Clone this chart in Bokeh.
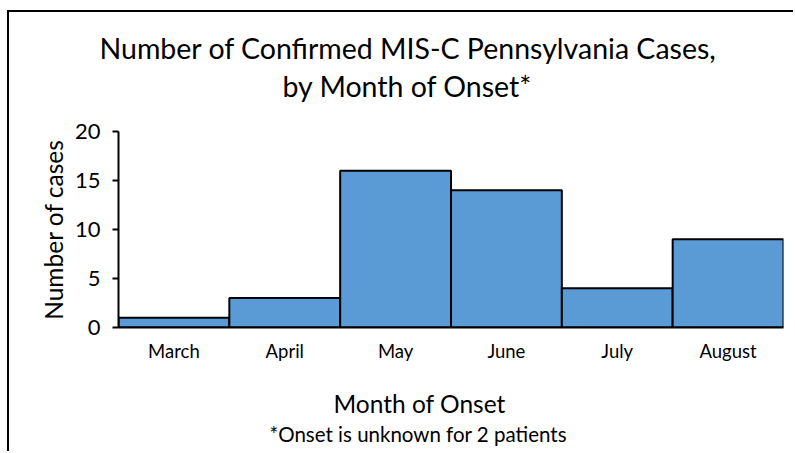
from bokeh.plotting import figure
from bokeh.models import Range1d, Title
from bokeh.embed import file_html
from bokeh.resources import INLINE

months = ["March", "April", "May", "June", "July", "August"]
cases = [1, 3, 16, 14, 4, 9]
y_ticks = [0, 5, 10, 15, 20]

FONT = "Lato"

p = figure(x_range=months, y_range=Range1d(0, 20), width=786, height=441,
           output_backend="svg", toolbar_location=None,
           min_border_left=109, min_border_right=12, min_border_top=119,
           min_border_bottom=126)
p.styles = {"border-left": "2px solid black", "border-top": "2px solid black",
            "margin-left": "7px", "margin-top": "10px"}
p.x_range.range_padding = 0
p.vbar(x=months, top=cases, width=1.0, fill_color="#5B9BD5",
       line_color="black", line_width=2)

p.outline_line_color = None
p.xgrid.grid_line_color = None
p.ygrid.grid_line_color = None

p.yaxis.ticker = y_ticks
p.yaxis.axis_line_width = 2
p.yaxis.axis_line_color = "black"
p.yaxis.major_tick_line_width = 2
p.yaxis.major_tick_line_color = "black"
p.yaxis.major_tick_out = 6
p.yaxis.major_tick_in = 0
p.yaxis.minor_tick_line_color = None
p.yaxis.major_label_text_font = FONT
p.yaxis.major_label_text_font_size = "22px"
p.yaxis.major_label_text_color = "black"
p.yaxis.major_label_standoff = 12
p.yaxis.axis_label = "Number of cases"
p.yaxis.axis_label_text_font = FONT
p.yaxis.axis_label_text_font_size = "24.5px"
p.yaxis.axis_label_text_font_style = "normal"
p.yaxis.axis_label_text_color = "black"
p.yaxis.axis_label_standoff = 4

p.xaxis.axis_line_width = 2
p.xaxis.axis_line_color = "black"
p.xaxis.major_tick_line_color = None
p.xaxis.major_tick_out = 0
p.xaxis.major_tick_in = 0
p.xaxis.major_label_text_font = FONT
p.xaxis.major_label_text_font_size = "18.5px"
p.xaxis.major_label_text_color = "black"
p.xaxis.major_label_standoff = 12


def title(text, side, offset, size, standoff):
    p.add_layout(Title(text=text, align="left", offset=offset,
                       text_font=FONT, text_font_size=size,
                       text_font_style="normal", text_color="black",
                       standoff=standoff), side)


# blank titles only reserve vertical space between the frame and the texts
title(" ", "above", 0, "10px", 13)
title("by Month of Onset*", "above", 164, "28.5px", 4)
title("Number of Confirmed MIS-C Pennsylvania Cases,", "above", -19, "28.5px", 0)

title(" ", "below", 0, "10px", 7)
title("Month of Onset", "below", 215, "24.5px", 2)
title("*Onset is unknown for 2 patients", "below", 151, "20.5px", 2)

open("out.html", "w").write(file_html(p, INLINE))
